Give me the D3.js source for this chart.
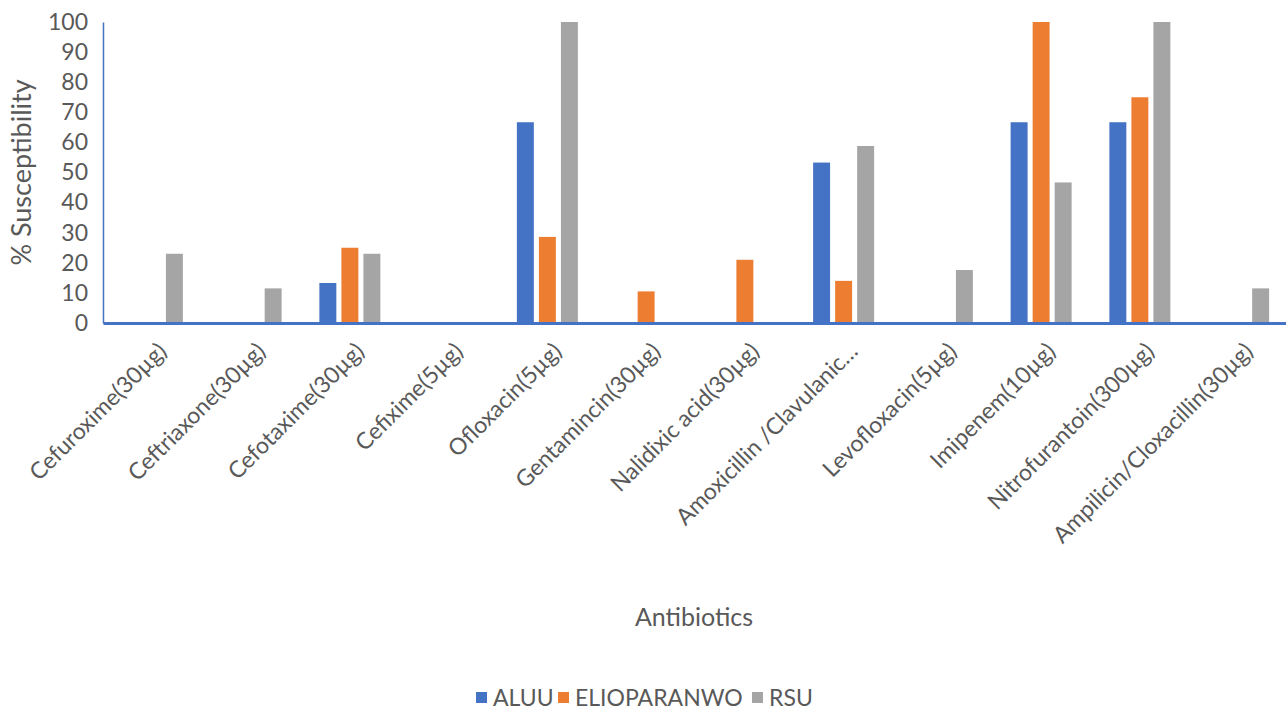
<!DOCTYPE html>
<html>
<head>
<meta charset="utf-8">
<script src="https://cdn.jsdelivr.net/npm/d3@7"></script>
<style>
  html, body { margin: 0; padding: 0; background: #fff; }
  svg { display: block; }
  svg text { font-family: Lato, "Open Sans", sans-serif; }
</style>
</head>
<body>
<svg id="chart" width="1286" height="710"></svg>
<script>
// Antibiotic susceptibility (%) by sampling site
const antibiotics = [
  "Cefuroxime(30µg)", "Ceftriaxone(30µg)", "Cefotaxime(30µg)", "Cefixime(5µg)",
  "Ofloxacin(5µg)", "Gentamincin(30µg)", "Nalidixic acid(30µg)",
  "Amoxicillin /Clavulanic…", "Levofloxacin(5µg)", "Imipenem(10µg)",
  "Nitrofurantoin(300µg)", "Ampilicin/Cloxacillin(30µg)"
];
const seriesNames = ["ALUU", "ELIOPARANWO", "RSU"];
const aluu        = [0, 0, 13.3, 0, 66.7, 0, 0, 53.3, 0, 66.7, 66.7, 0];
const elioparanwo = [0, 0, 25, 0, 28.6, 10.5, 21, 14, 0, 100, 75, 0];
const rsu         = [23, 11.5, 23, 0, 100, 0, 0, 58.8, 17.6, 46.7, 100, 11.5];
const yTicks = [0, 10, 20, 30, 40, 50, 60, 70, 80, 90, 100];
const colors = ["#4472C4", "#ED7D31", "#A5A5A5"];

const seriesValues = [aluu, elioparanwo, rsu];
const svg = d3.select("#chart");
const plot = { left: 103, right: 1288, top: 22, bottom: 323 };

const x0 = d3.scaleBand().domain(antibiotics).range([plot.left, plot.right]).padding(0);
const groupPad = (x0.bandwidth() - 61) / 2;
const x1 = d3.scaleBand().domain(seriesNames)
  .range([groupPad, x0.bandwidth() - groupPad]).paddingInner(0.23).paddingOuter(0);
const y = d3.scaleLinear().domain([0, 100]).range([plot.bottom, plot.top]);
const color = d3.scaleOrdinal().domain(seriesNames).range(colors);

// Bars
const rows = antibiotics.map((a, i) => ({
  name: a,
  vals: seriesNames.map((s, k) => ({ s, v: seriesValues[k][i] }))
}));
const g = svg.append("g").selectAll("g").data(rows).join("g")
  .attr("transform", d => `translate(${x0(d.name)},0)`);
g.selectAll("rect").data(d => d.vals.filter(e => e.v > 0)).join("rect")
  .attr("x", d => x1(d.s))
  .attr("width", x1.bandwidth())
  .attr("y", d => y(d.v))
  .attr("height", d => y(0) - y(d.v))
  .attr("fill", d => color(d.s));

// Y axis
const yAxis = svg.append("g")
  .attr("transform", `translate(${plot.left},0)`)
  .call(d3.axisLeft(y).tickValues(yTicks).tickSize(0).tickPadding(15))
  .attr("font-family", null);
yAxis.select(".domain").attr("stroke", "#4472C4").attr("stroke-width", 1.5);
yAxis.selectAll("text").attr("fill", "#595959").style("font-size", "23px");

// X axis
const xAxis = svg.append("g")
  .attr("transform", `translate(0,${plot.bottom})`)
  .call(d3.axisBottom(x0).tickSize(0).tickFormat(""));
xAxis.select(".domain").attr("stroke", "#4472C4").attr("stroke-width", 3);

svg.append("g").selectAll("text").data(antibiotics).join("text")
  .attr("transform", d => `translate(${x0(d) + x0.bandwidth() / 2 + 10},${plot.bottom + 24}) rotate(-45)`)
  .attr("text-anchor", "end")
  .attr("dy", "0.35em")
  .attr("fill", "#595959")
  .style("font-size", "23px")
  .text(d => d);

// Axis titles
svg.append("text")
  .attr("transform", `translate(31,${(plot.top + plot.bottom) / 2}) rotate(-90)`)
  .attr("text-anchor", "middle")
  .attr("fill", "#595959")
  .style("font-size", "27px")
  .text("% Susceptibility");

svg.append("text")
  .attr("x", 694).attr("y", 626)
  .attr("text-anchor", "middle")
  .attr("fill", "#595959")
  .style("font-size", "25px")
  .text("Antibiotics");

// Legend
const legendPos = [476, 558, 752];
const leg = svg.append("g").selectAll("g").data(seriesNames).join("g")
  .attr("transform", (d, i) => `translate(${legendPos[i]},692)`);
leg.append("rect").attr("width", 11).attr("height", 11).attr("fill", d => color(d));
leg.append("text").attr("x", 17).attr("y", 14)
  .attr("fill", "#595959").style("font-size", "23px").text(d => d);
</script>
</body>
</html>
